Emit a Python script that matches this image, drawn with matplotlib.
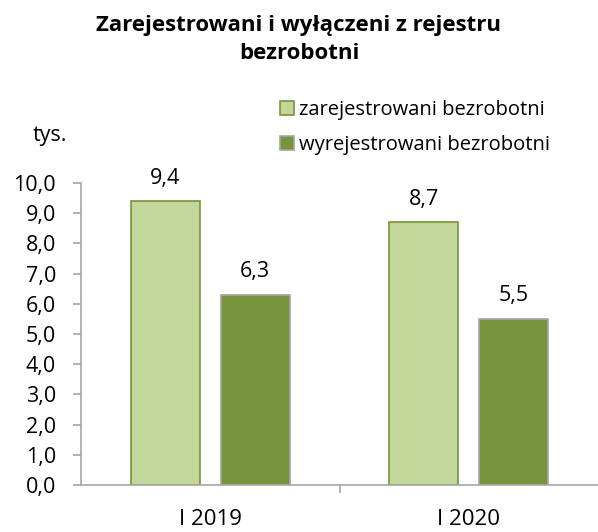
import matplotlib
matplotlib.use("Agg")
import matplotlib.pyplot as plt
import numpy as np

categories = ["I 2019", "I 2020"]
registered = [9.4, 8.7]
deregistered = [6.3, 5.5]
series_names = ["zarejestrowani bezrobotni", "wyrejestrowani bezrobotni"]
yticks = [0, 1, 2, 3, 4, 5, 6, 7, 8, 9, 10]
title_lines = ["Zarejestrowani i wyłączeni z rejestru", "bezrobotni"]

plt.rcParams['font.family'] = ['Open Sans', 'DejaVu Sans']

fig = plt.figure(figsize=(5.98, 5.32), dpi=100)
ax = fig.add_axes([0.1355, 0.0883, 0.8645, 0.5677])

x = np.arange(len(categories))
w = 0.266
off = 0.174
b1 = ax.bar(x - off, registered, w, color="#C4D79B", edgecolor="#77933C", linewidth=1.2, label=series_names[0])
b2 = ax.bar(x + off, deregistered, w, color="#77933C", edgecolor="#A6A6A6", linewidth=1.2, label=series_names[1])

for bars, vals in ((b1, registered), (b2, deregistered)):
    for r, v in zip(bars, vals):
        ax.annotate(f"{v:.1f}".replace(".", ","), (r.get_x() + r.get_width() / 2, v),
                    xytext=(0, 9), textcoords="offset points", ha="center", va="bottom", fontsize=15.5)

ax.set_xlim(-0.5, 1.5)
ax.set_ylim(0, 10)
ax.set_yticks(yticks)
ax.set_yticklabels([f"{t:.1f}".replace(".", ",") for t in yticks], fontsize=15.5)
ax.set_xticks([0.5], minor=False)
ax.set_xticks(x, minor=True)
ax.set_xticklabels([""])
ax.set_xticklabels(categories, minor=True, fontsize=16)
ax.tick_params(axis='x', which='minor', length=0, pad=17)
ax.tick_params(axis='x', which='major', length=6, width=1.2, color="#A6A6A6", direction='out')
ax.tick_params(axis='y', length=6, width=1.2, color="#A6A6A6", direction='out', pad=12)
for s in ("top", "right"):
    ax.spines[s].set_visible(False)
for s in ("left", "bottom"):
    ax.spines[s].set_color("#A6A6A6")
    ax.spines[s].set_linewidth(1.2)

fig.text(0.5, 0.952, title_lines[0], ha="center", va="center", fontsize=16, fontweight="bold")
fig.text(0.5, 0.899, title_lines[1], ha="center", va="center", fontsize=16, fontweight="bold")
fig.text(0.0836, 0.745, "tys.", ha="center", va="center", fontsize=15.5)

leg = fig.legend(handles=[b1, b2], loc="upper left", bbox_to_anchor=(0.468, 0.812), frameon=False,
                 fontsize=14.5, handlelength=0.7, handleheight=0.7, handletextpad=0.25, labelspacing=0.75,
                 borderaxespad=0, borderpad=0)

fig.savefig("out.png", dpi=100)
